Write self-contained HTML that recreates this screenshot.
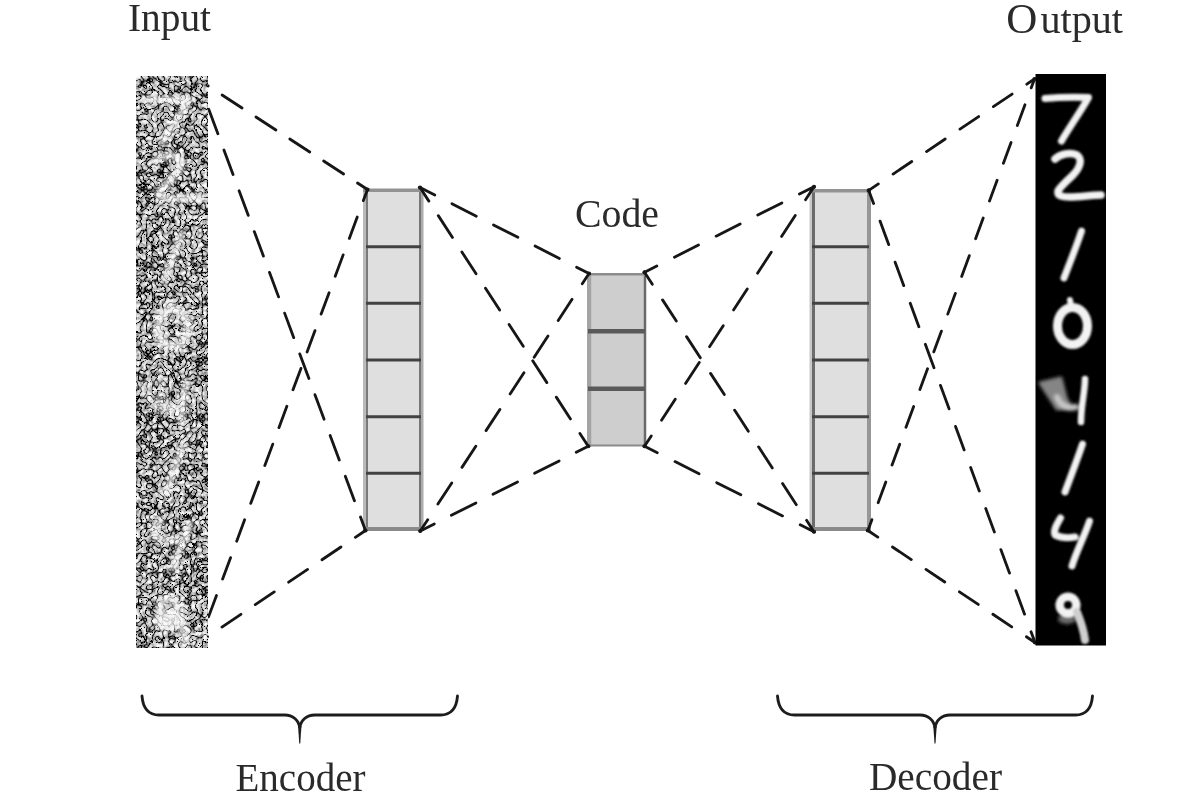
<!DOCTYPE html>
<html><head><meta charset="utf-8"><style>
html,body{margin:0;padding:0;background:#fff;width:1200px;height:800px;overflow:hidden}
svg{display:block}
.inp *{stroke:#fff;fill:none}
text{font-family:"Liberation Serif",serif;fill:#2a2a2a}
</style></head><body>
<svg width="1200" height="800" viewBox="0 0 1200 800">
<defs>
<filter id="nz" x="0" y="0" width="100%" height="100%" color-interpolation-filters="sRGB">
<feTurbulence type="fractalNoise" baseFrequency="0.25" numOctaves="2" seed="5" result="f"/>
<feColorMatrix in="f" type="matrix" values="1 0 0 0 0  1 0 0 0 0  1 0 0 0 0  0 0 0 0 1" result="g"/>
<feComponentTransfer in="g" result="blobs"><feFuncR type="table" tableValues="0 0.22 0.52 0.7 0.82 0.92 0.98 1 1"/><feFuncG type="table" tableValues="0 0.22 0.52 0.7 0.82 0.92 0.98 1 1"/><feFuncB type="table" tableValues="0 0.22 0.52 0.7 0.82 0.92 0.98 1 1"/></feComponentTransfer>
<feTurbulence type="turbulence" baseFrequency="0.18" numOctaves="1" seed="9" result="t"/>
<feColorMatrix in="t" type="matrix" values="1 0 0 0 0  1 0 0 0 0  1 0 0 0 0  0 0 0 0 1" result="tg"/>
<feComponentTransfer in="tg" result="cracks"><feFuncR type="table" tableValues="0 0.9 1 1 1 1 1 1"/><feFuncG type="table" tableValues="0 0.9 1 1 1 1 1 1"/><feFuncB type="table" tableValues="0 0.9 1 1 1 1 1 1"/></feComponentTransfer>
<feBlend in="blobs" in2="cracks" mode="multiply"/>
</filter>
<filter id="bl" x="-20%" y="-20%" width="140%" height="140%"><feGaussianBlur stdDeviation="1.2"/></filter>
<filter id="idf" x="0" y="0" width="100%" height="100%"><feOffset dx="0" dy="0"/></filter>
<filter id="bl3" x="-50%" y="-50%" width="200%" height="200%"><feGaussianBlur stdDeviation="1.8"/></filter>
<filter id="gb" x="0" y="0" width="1200" height="800" filterUnits="userSpaceOnUse"><feGaussianBlur stdDeviation="0.45"/></filter>
<filter id="bl2" x="-50%" y="-50%" width="200%" height="200%"><feGaussianBlur stdDeviation="2.2"/></filter>
</defs>
<rect width="1200" height="800" fill="#fff"/>
<g filter="url(#gb)">
<rect x="366" y="190" width="55.00" height="340.00" fill="#dfdfdf"/>
<rect x="363" y="189" width="3.00" height="342.00" fill="#bababa"/>
<rect x="366" y="189" width="2.00" height="342.00" fill="#7a7a7a"/>
<rect x="419" y="188.5" width="2.00" height="342.50" fill="#777777"/>
<rect x="421" y="188.5" width="2.50" height="342.50" fill="#acacac"/>
<rect x="363" y="188.5" width="60.50" height="3.50" fill="#939393"/>
<rect x="363" y="527" width="60.50" height="4.00" fill="#8a8a8a"/>
<line x1="366" y1="246.67" x2="421" y2="246.67" stroke="#434343" stroke-width="3"/>
<line x1="366" y1="303.33" x2="421" y2="303.33" stroke="#434343" stroke-width="3"/>
<line x1="366" y1="360.00" x2="421" y2="360.00" stroke="#434343" stroke-width="3"/>
<line x1="366" y1="416.67" x2="421" y2="416.67" stroke="#434343" stroke-width="3"/>
<line x1="366" y1="473.33" x2="421" y2="473.33" stroke="#434343" stroke-width="3"/>

<rect x="591.5" y="274" width="52.50" height="172.00" fill="#cecece"/>
<rect x="587" y="273" width="4.50" height="173.50" fill="#a4a4a4"/>
<rect x="643.75" y="273" width="2.50" height="173.50" fill="#6a6a6a"/>
<rect x="587" y="273" width="59.25" height="2.50" fill="#8c8c8c"/>
<rect x="587" y="444.5" width="59.25" height="2.00" fill="#8c8c8c"/>
<line x1="588" y1="331.33" x2="645" y2="331.33" stroke="#5a5a5a" stroke-width="4.5"/>
<line x1="588" y1="388.67" x2="645" y2="388.67" stroke="#5a5a5a" stroke-width="4.5"/>

<rect x="815" y="190" width="52.00" height="340.00" fill="#dfdfdf"/>
<rect x="809.5" y="189" width="2.50" height="342.00" fill="#c8c8c8"/>
<rect x="812" y="189" width="3.00" height="342.00" fill="#6c6c6c"/>
<rect x="867" y="189" width="4.00" height="342.00" fill="#979797"/>
<rect x="809.5" y="189" width="61.50" height="3.50" fill="#939393"/>
<rect x="809.5" y="527" width="61.50" height="4.00" fill="#8a8a8a"/>
<line x1="812" y1="246.67" x2="869" y2="246.67" stroke="#434343" stroke-width="3"/>
<line x1="812" y1="303.33" x2="869" y2="303.33" stroke="#434343" stroke-width="3"/>
<line x1="812" y1="360.00" x2="869" y2="360.00" stroke="#434343" stroke-width="3"/>
<line x1="812" y1="416.67" x2="869" y2="416.67" stroke="#434343" stroke-width="3"/>
<line x1="812" y1="473.33" x2="869" y2="473.33" stroke="#434343" stroke-width="3"/>

<g stroke="#141414" stroke-width="2.8" stroke-linecap="round" fill="none">
<line x1="197.5" y1="79" x2="367.5" y2="189.5" stroke-dasharray="23.80 16.57" stroke-dashoffset="11.04"/>
<line x1="197.5" y1="79" x2="365.5" y2="530.5" stroke-dasharray="26.17 17.34" stroke-dashoffset="11.25"/>
<line x1="199" y1="642.5" x2="367.5" y2="189.5" stroke-dasharray="22.81 17.57" stroke-dashoffset="13.05"/>
<line x1="199" y1="642.5" x2="365.5" y2="530.5" stroke-dasharray="22.85 17.35" stroke-dashoffset="12.57"/>
<line x1="420" y1="187.5" x2="589" y2="273.5" stroke-dasharray="27.39 19.23" stroke-dashoffset="10.80"/>
<line x1="420" y1="187.5" x2="588.25" y2="446.25" stroke-dasharray="26.01 17.29" stroke-dashoffset="9.76"/>
<line x1="420.25" y1="531" x2="589" y2="273.5" stroke-dasharray="25.28 18.62" stroke-dashoffset="11.71"/>
<line x1="420.25" y1="531" x2="588.25" y2="446.25" stroke-dasharray="27.52 19.10" stroke-dashoffset="11.79"/>
<line x1="644.5" y1="272.25" x2="814" y2="186.75" stroke-dasharray="26.98 19.70" stroke-dashoffset="13.19"/>
<line x1="644.5" y1="446.25" x2="814" y2="186.75" stroke-dasharray="25.07 18.82" stroke-dashoffset="12.75"/>
<line x1="644.5" y1="272.25" x2="814" y2="531.75" stroke-dasharray="25.20 18.69" stroke-dashoffset="10.90"/>
<line x1="644.5" y1="446.25" x2="814" y2="531.75" stroke-dasharray="26.98 19.77" stroke-dashoffset="12.62"/>
<line x1="868.75" y1="190.4" x2="1034.5" y2="79" stroke-dasharray="22.52 17.76" stroke-dashoffset="10.95"/>
<line x1="867.9" y1="530.5" x2="1034.5" y2="79" stroke-dasharray="22.11 18.09" stroke-dashoffset="10.57"/>
<line x1="868.75" y1="190.4" x2="1035" y2="642.5" stroke-dasharray="25.05 18.70" stroke-dashoffset="11.05"/>
<line x1="867.9" y1="530.5" x2="1035" y2="642.5" stroke-dasharray="22.64 17.66" stroke-dashoffset="10.71"/>
</g>
<g fill="#141414"><circle cx="367.5" cy="189.5" r="2.1"/><circle cx="365.5" cy="530.5" r="2.1"/><circle cx="420" cy="187.5" r="2.1"/><circle cx="420.25" cy="531" r="2.1"/><circle cx="589" cy="273.5" r="2.1"/><circle cx="588.25" cy="446.25" r="2.1"/><circle cx="644.5" cy="272.25" r="2.1"/><circle cx="644.5" cy="446.25" r="2.1"/><circle cx="814" cy="186.75" r="2.1"/><circle cx="814" cy="531.75" r="2.1"/><circle cx="868.75" cy="190.4" r="2.1"/><circle cx="867.9" cy="530.5" r="2.1"/><circle cx="1034.5" cy="79" r="2.1"/><circle cx="1035" cy="642.5" r="2.1"/></g>
<svg x="136" y="76" width="72" height="572" overflow="hidden"><rect width="72" height="572" filter="url(#nz)"/>
<g class="inp" transform="translate(-1035.5,-74)" fill="none" stroke="#fff" stroke-width="10" stroke-linecap="round" stroke-linejoin="round" opacity="0.75" filter="url(#bl2)">
<path d="M1045,98.5 C1056,97.5 1076,97 1088.5,97.5 C1081,111 1069,128 1061.5,141" stroke-width="7"/>
<path d="M1055,159 C1060,154 1070,152 1077,155 C1083,159 1080,168 1073,175 C1067,181 1060,187 1058,191 C1057,196 1062,197 1070,197 C1080,197 1092,195 1101,195" stroke-width="7.5"/>
<path d="M1081.5,231 C1077,245 1069,265 1064,278" stroke-width="7"/>
<ellipse cx="1072.5" cy="326" rx="15" ry="18.5" stroke-width="9"/>
<path d="M1070,300 L1071,306" stroke-width="6"/>
<path class="g" d="M1040,383 L1061,378 L1066,398 L1071,408 L1057,409 Z" fill="#858585" stroke="#858585" stroke-width="3" filter="url(#bl3)"/>
<path class="g" d="M1057,397 C1060,405 1066,409 1076,407" stroke="#c8c8c8" stroke-width="6" filter="url(#bl3)"/>
<path d="M1085,379 C1085,392 1081,405 1081,422" stroke-width="6.5"/>
<path d="M1082.5,444 C1078,458 1070,478 1065,492" stroke-width="7"/>
<path d="M1060.5,518 C1057,524 1053,530 1055,535 C1061,538 1069,538 1075,537" stroke-width="7"/>
<path d="M1089.5,521 C1085,535 1076,552 1072,566" stroke-width="7"/>
<ellipse class="g" cx="1067" cy="619" rx="9" ry="5" fill="#6e6e6e" stroke="none" filter="url(#bl3)"/>
<circle cx="1068" cy="605" r="8.3" stroke-width="8.5"/>
<path class="g" d="M1077,612 C1081,622 1084,632 1085,640" stroke="#cfcfcf" stroke-width="8"/>
</g></svg>
<rect x="1035.5" y="74" width="70.5" height="571.5" fill="#000"/>
<g fill="none" stroke="#f2f2f2" stroke-width="7.5" stroke-linecap="round" stroke-linejoin="round" filter="url(#bl)">
<path d="M1045,98.5 C1056,97.5 1076,97 1088.5,97.5 C1081,111 1069,128 1061.5,141" stroke-width="7"/>
<path d="M1055,159 C1060,154 1070,152 1077,155 C1083,159 1080,168 1073,175 C1067,181 1060,187 1058,191 C1057,196 1062,197 1070,197 C1080,197 1092,195 1101,195" stroke-width="7.5"/>
<path d="M1081.5,231 C1077,245 1069,265 1064,278" stroke-width="7"/>
<ellipse cx="1072.5" cy="326" rx="15" ry="18.5" stroke-width="9"/>
<path d="M1070,300 L1071,306" stroke-width="6"/>
<path class="g" d="M1040,383 L1061,378 L1066,398 L1071,408 L1057,409 Z" fill="#858585" stroke="#858585" stroke-width="3" filter="url(#bl3)"/>
<path class="g" d="M1057,397 C1060,405 1066,409 1076,407" stroke="#c8c8c8" stroke-width="6" filter="url(#bl3)"/>
<path d="M1085,379 C1085,392 1081,405 1081,422" stroke-width="6.5"/>
<path d="M1082.5,444 C1078,458 1070,478 1065,492" stroke-width="7"/>
<path d="M1060.5,518 C1057,524 1053,530 1055,535 C1061,538 1069,538 1075,537" stroke-width="7"/>
<path d="M1089.5,521 C1085,535 1076,552 1072,566" stroke-width="7"/>
<ellipse class="g" cx="1067" cy="619" rx="9" ry="5" fill="#6e6e6e" stroke="none" filter="url(#bl3)"/>
<circle cx="1068" cy="605" r="8.3" stroke-width="8.5"/>
<path class="g" d="M1077,612 C1081,622 1084,632 1085,640" stroke="#cfcfcf" stroke-width="8"/>
</g>
<path d="M142,696 C143,709 149,715 159,715 L284.75,715 C292.75,715 298.75,720 299.75,728 C300.75,720 306.75,715 314.75,715 L440.5,715 C450.5,715 456.5,709 457.5,696" fill="none" stroke="#1e1e1e" stroke-width="2.9" stroke-linecap="round"/>
<path d="M298.05,726 L301.45,726 L300.25,743.5 L299.25,743.5 Z" fill="#1e1e1e"/>

<path d="M777.5,696 C778.5,709 784.5,715 794.5,715 L920.0,715 C928.0,715 934.0,720 935.0,728 C936.0,720 942.0,715 950.0,715 L1075.5,715 C1085.5,715 1091.5,709 1092.5,696" fill="none" stroke="#1e1e1e" stroke-width="2.9" stroke-linecap="round"/>
<path d="M933.3,726 L936.7,726 L935.5,743.5 L934.5,743.5 Z" fill="#1e1e1e"/>

<g filter="url(#idf)">
<text x="128" y="30.5" font-size="39" textLength="83" lengthAdjust="spacingAndGlyphs">Input</text>
<text x="1006.3" y="33" font-size="43">O</text>
<text x="1040.5" y="32.5" font-size="39" textLength="82.5" lengthAdjust="spacingAndGlyphs">utput</text>
<text x="575" y="226.5" font-size="39" textLength="84" lengthAdjust="spacingAndGlyphs">Code</text>
<text x="235.5" y="790.5" font-size="39" textLength="130" lengthAdjust="spacingAndGlyphs">Encoder</text>
<text x="869" y="789.5" font-size="39" textLength="133" lengthAdjust="spacingAndGlyphs">Decoder</text>
</g>
</g>
</svg>
</body></html>
